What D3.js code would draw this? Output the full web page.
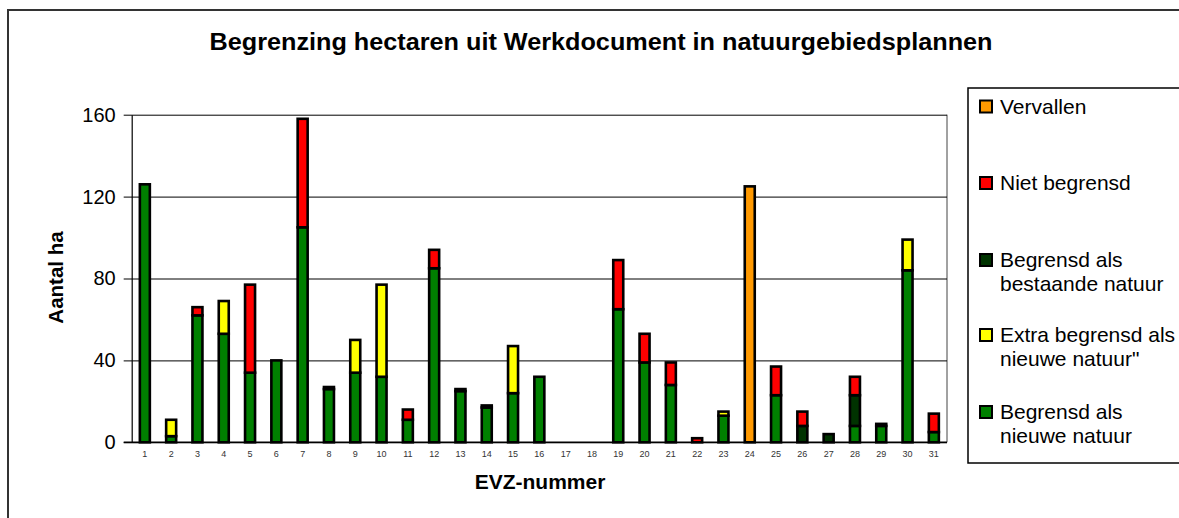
<!DOCTYPE html>
<html>
<head>
<meta charset="utf-8">
<script src="https://cdn.jsdelivr.net/npm/d3@7/dist/d3.min.js"></script>
<style>
  html, body { margin: 0; padding: 0; background: #fff; }
  svg { display: block; font-family: "Liberation Sans", Arial, sans-serif; }
</style>
</head>
<body>
<svg id="chart" width="1179" height="518"></svg>
<script>
// ---- data ----
const categories = ["1","2","3","4","5","6","7","8","9","10","11","12","13","14","15","16","17","18","19","20","21","22","23","24","25","26","27","28","29","30","31"];
const nieuweNatuur   = [126,3,62,53,34,40,105,26,34,32,11,85,25,17,24,32,0,0,65,39,28,0,13,0,23,0,0,8,8,84,5];
const bestaandeNatuur= [0,0,0,0,0,0,0,0,0,0,0,0,0,0,0,0,0,0,0,0,0,0,0,0,0,8,4,15,0,0,0];
const extraNieuwe    = [0,8,0,16,0,0,0,0,16,45,0,0,0,0,23,0,0,0,0,0,0,0,2,0,0,0,0,0,0,15,0];
const nietBegrensd   = [0,0,4,0,43,0,53,1,0,0,5,9,1,1,0,0,0,0,24,14,11,2,0,0,14,7,0,9,1,0,9];
const vervallen      = [0,0,0,0,0,0,0,0,0,0,0,0,0,0,0,0,0,0,0,0,0,0,0,125,0,0,0,0,0,0,0];
const seriesKeys   = ["nieuwe","bestaande","extra","niet","vervallen"];
const seriesLabels = [["Begrensd als","nieuwe natuur"],["Begrensd als","bestaande natuur"],["Extra begrensd als","nieuwe natuur\""],["Niet begrensd"],["Vervallen"]];
const seriesColors = ["#008000","#003300","#FFFF00","#FF0000","#FF9900"];
const yTicks = [0,40,80,120,160];
const title = "Begrenzing hectaren uit Werkdocument in natuurgebiedsplannen";
const yTitle = "Aantal ha";
const xTitle = "EVZ-nummer";

// ---- build table ----
const seriesArrays = [nieuweNatuur, bestaandeNatuur, extraNieuwe, nietBegrensd, vervallen];
const table = categories.map((c, i) => {
  const row = { cat: c };
  seriesKeys.forEach((k, j) => row[k] = seriesArrays[j][i]);
  return row;
});

const svg = d3.select("#chart");
const plot = { left: 131.7, right: 947, top: 114.7, bottom: 442.3 };

// outer border
svg.append("rect").attr("x", 8).attr("y", 10).attr("width", 1190).attr("height", 540)
  .attr("fill", "none").attr("stroke", "#333").attr("stroke-width", 2);

const x = d3.scaleBand().domain(categories).range([plot.left, plot.right])
  .paddingInner(0.62).paddingOuter(0.31);
const y = d3.scaleLinear().domain([0, 160]).range([plot.bottom, plot.top]);

// plot frame right side
svg.append("line").attr("x1", plot.right).attr("x2", plot.right)
  .attr("y1", plot.top).attr("y2", plot.bottom).attr("stroke", "#444").attr("stroke-width", 1);

// gridlines + y axis
const yAxis = d3.axisLeft(y).tickValues(yTicks).tickSize(-(plot.right - plot.left)).tickPadding(14).tickSizeOuter(0);
const gy = svg.append("g").attr("transform", `translate(${plot.left},0)`).call(yAxis);
gy.select(".domain").attr("stroke", "#000").attr("stroke-width", 1.2);
gy.selectAll(".tick line").attr("stroke", "#000").attr("stroke-width", 1)
  .attr("x1", -8);
gy.selectAll(".tick text").attr("font-size", 20).attr("fill", "#000")
  .attr("font-family", "Liberation Sans, Arial, sans-serif").attr("x", -16);

// bars
const stack = d3.stack().keys(seriesKeys);
const stacked = stack(table);
svg.append("g").selectAll("g").data(stacked).join("g")
  .attr("fill", (d, i) => seriesColors[i])
  .selectAll("rect").data(d => d.filter(s => s[1] - s[0] > 0)).join("rect")
  .attr("x", d => x(d.data.cat))
  .attr("width", x.bandwidth())
  .attr("y", d => y(d[1]))
  .attr("height", d => y(d[0]) - y(d[1]))
  .attr("stroke", "#000").attr("stroke-width", 2.6);

// x axis
const xAxis = d3.axisBottom(x).tickSize(0).tickPadding(8);
const gx = svg.append("g").attr("transform", `translate(0,${plot.bottom})`).call(xAxis);
gx.select(".domain").attr("stroke", "#000").attr("stroke-width", 1.5)
  .attr("d", `M${plot.left - 8},0H${plot.right}`);
gx.selectAll(".tick text").attr("font-size", 9).attr("fill", "#333")
  .attr("font-family", "Liberation Sans, Arial, sans-serif");

// title
svg.append("text").attr("x", 601).attr("y", 50).attr("text-anchor", "middle")
  .attr("font-size", 23).attr("font-weight", "bold")
  .attr("textLength", 783).attr("lengthAdjust", "spacingAndGlyphs").text(title);

// axis titles
svg.append("text").attr("transform", "translate(63,277.5) rotate(-90)")
  .attr("text-anchor", "middle").attr("font-size", 20.5).attr("font-weight", "bold").text(yTitle);
svg.append("text").attr("x", 540).attr("y", 489).attr("text-anchor", "middle")
  .attr("font-size", 21).attr("font-weight", "bold").text(xTitle);

// legend
svg.append("rect").attr("x", 968).attr("y", 88).attr("width", 260).attr("height", 375)
  .attr("fill", "#fff").attr("stroke", "#000").attr("stroke-width", 1.5);
const legendY = [412, 260, 335, 183, 106.5];
const lg = svg.append("g");
seriesKeys.forEach((k, i) => {
  const cy = legendY[i];
  lg.append("rect").attr("x", 980).attr("y", cy - 6).attr("width", 12).attr("height", 12)
    .attr("fill", seriesColors[i]).attr("stroke", "#000").attr("stroke-width", 2);
  const t = lg.append("text").attr("x", 1000).attr("y", cy + 7).attr("font-size", 21).attr("fill", "#000");
  seriesLabels[i].forEach((line, j) => {
    t.append("tspan").attr("x", 1000).attr("dy", j === 0 ? 0 : 24).text(line);
  });
});
</script>
</body>
</html>
